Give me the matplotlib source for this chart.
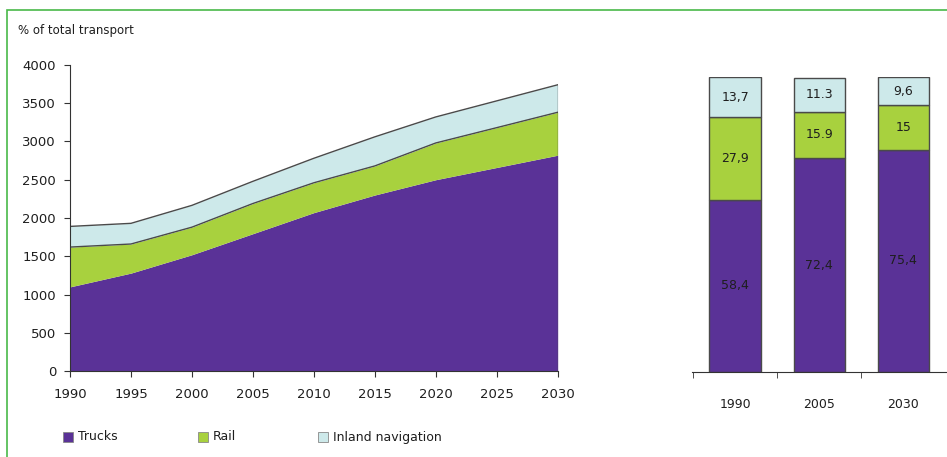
import matplotlib.pyplot as plt
from matplotlib.patches import Rectangle

# freight volumes, stacked (absolute values per mode)
years = [1990, 1995, 2000, 2005, 2010, 2015, 2020, 2025, 2030]
trucks = [1100, 1280, 1520, 1795, 2070, 2300, 2500, 2660, 2820]
rail = [520, 380, 360, 394, 390, 380, 480, 520, 561]
inland = [270, 270, 285, 290, 320, 380, 340, 350, 359]

# modal split in percent
share_years = ["1990", "2005", "2030"]
share_trucks = [58.4, 72.4, 75.4]
share_rail = [27.9, 15.9, 15.0]
share_inland = [13.7, 11.3, 9.6]
share_labels_trucks = ["58,4", "72,4", "75,4"]
share_labels_rail = ["27,9", "15.9", "15"]
share_labels_inland = ["13,7", "11.3", "9,6"]

c_trucks = "#5a3297"
c_rail = "#a8d13e"
c_inland = "#cde9ea"
c_edge = "#4a4a4a"
c_text = "#1e1e1e"

plt.rcParams["font.family"] = "DejaVu Sans"
fig = plt.figure(figsize=(9.47, 4.57), dpi=100)

# left panel: stacked area
ax = fig.add_axes([0.0739, 0.188, 0.515, 0.670])
top_t = trucks
top_r = [t + r for t, r in zip(trucks, rail)]
top_i = [t + r + i for t, r, i in zip(trucks, rail, inland)]
ax.fill_between(years, 0, top_t, color=c_trucks, lw=0)
ax.fill_between(years, top_t, top_r, color=c_rail, lw=0)
ax.fill_between(years, top_r, top_i, color=c_inland, lw=0)
ax.plot(years, top_r, color=c_edge, lw=1.0)
ax.plot(years, top_i, color=c_edge, lw=1.0)
ax.plot([years[-1], years[-1]], [0, top_i[-1]], color=c_edge, lw=1.0)
ax.set_xlim(1990, 2030)
ax.set_ylim(0, 4000)
ax.set_xticks(years)
ax.set_yticks(range(0, 4001, 500))
for s in ("top", "right"):
    ax.spines[s].set_visible(False)
for s in ("left", "bottom"):
    ax.spines[s].set_color("#333333")
ax.tick_params(direction="out", length=4, labelsize=9.5, labelcolor=c_text,
               color="#333333")
ax.tick_params(axis="y", pad=6)
ax.tick_params(axis="x", pad=8)
fig.text(0.019, 0.934, "% of total transport", fontsize=8.5, color=c_text,
         ha="left", va="center")

# right panel: modal split bars
bx = fig.add_axes([0.731, 0.186, 0.269, 0.6455])
pos = [0, 1, 2]
w = 0.61
bot_r = share_trucks
bot_i = [t + r for t, r in zip(share_trucks, share_rail)]
bx.bar(pos, share_trucks, w, color=c_trucks, edgecolor=c_edge, lw=1.0)
bx.bar(pos, share_rail, w, bottom=bot_r, color=c_rail, edgecolor=c_edge, lw=1.0)
bx.bar(pos, share_inland, w, bottom=bot_i, color=c_inland, edgecolor=c_edge,
       lw=1.0)
for p, t, r, i, lt, lr, li in zip(pos, share_trucks, share_rail, share_inland,
                                  share_labels_trucks, share_labels_rail,
                                  share_labels_inland):
    bx.text(p, t / 2, lt, ha="center", va="center", fontsize=9, color=c_text)
    bx.text(p, t + r / 2, lr, ha="center", va="center", fontsize=9,
            color=c_text)
    bx.text(p, t + r + i / 2, li, ha="center", va="center", fontsize=9,
            color=c_text)
bx.set_xlim(-0.51, 2.52)
bx.set_ylim(0, 100)
bx.set_yticks([])
bx.set_xticks(pos)
bx.set_xticklabels(share_years)
bx.set_xticks([-0.5, 0.5, 1.5], minor=True)
bx.tick_params(axis="x", which="major", length=0, pad=19, labelsize=9,
               labelcolor=c_text)
bx.tick_params(axis="x", which="minor", length=4, color="#333333")
for s in ("top", "right", "left"):
    bx.spines[s].set_visible(False)
bx.spines["bottom"].set_color("#333333")

# legend row
items = [("Trucks", c_trucks, 63), ("Rail", c_rail, 198),
         ("Inland navigation", c_inland, 318)]
for label, col, px in items:
    fig.patches.append(Rectangle((px / 947, 1 - 442 / 457), 10 / 947,
                                 10 / 457, transform=fig.transFigure,
                                 facecolor=col, edgecolor="#888888", lw=0.6))
    fig.text((px + 15) / 947, 1 - 437 / 457, label, fontsize=9,
             color=c_text, ha="left", va="center")

# frame around the figure
fig.patches.append(Rectangle((7 / 947, -0.05), 1.0, 1 - 10 / 457 + 0.05,
                             transform=fig.transFigure, fill=False,
                             edgecolor="#49b949", lw=1.2))

fig.savefig("out.png", dpi=100)
